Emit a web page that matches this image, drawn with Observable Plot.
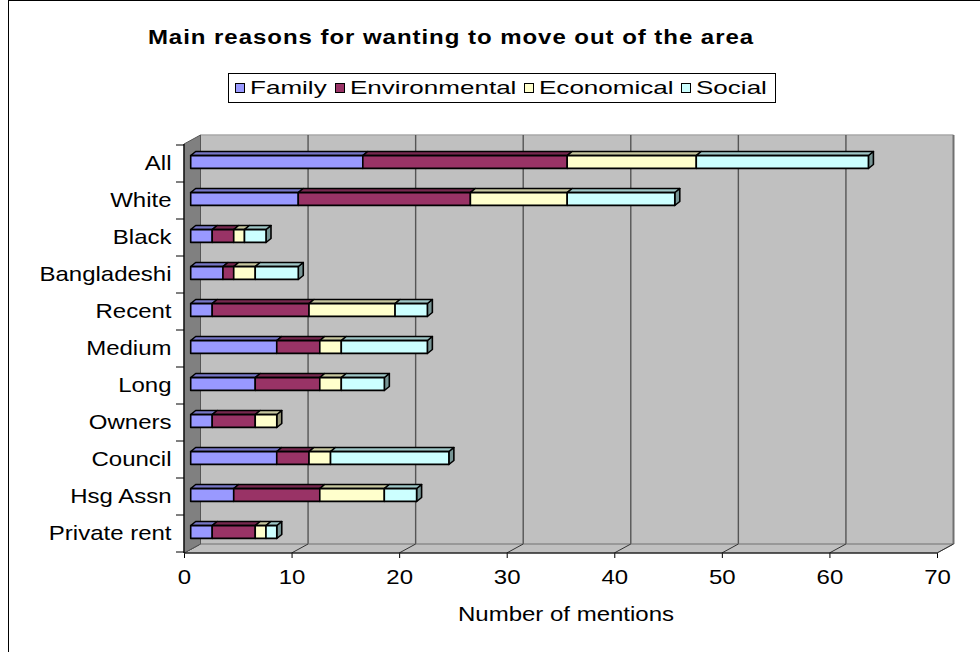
<!DOCTYPE html>
<html>
<head>
<meta charset="utf-8">
<script src="https://cdn.jsdelivr.net/npm/d3@7"></script>
<script src="https://cdn.jsdelivr.net/npm/@observablehq/plot@0.6"></script>
<style>
  body { margin: 0; background: #fff; }
  #chart { position: relative; width: 980px; height: 652px; overflow: hidden;
           font-family: "Liberation Sans", Arial, sans-serif; color: #000; }
  #chart svg { position: absolute; left: 0; top: 0; }
  #frame { position: absolute; left: 8px; top: 0; width: 990px; height: 670px;
           border-left: 1.5px solid #000; border-top: 1.5px solid #000; }
  .centered { position: absolute; white-space: nowrap; line-height: 1;
              transform-origin: 50% 50%; transform: translateX(-50%) scaleX(1.2); }
  #title { left: 451px; top: 27px; font-size: 20px; font-weight: bold; letter-spacing: 0.8px; }
  #xlabel { left: 566px; top: 604px; font-size: 20px; }
  #legend { position: absolute; left: 228px; top: 73px; width: 546px; height: 28px;
            border: 1px solid #000; background: #fff; }
  .swatch { position: absolute; top: 9px; width: 8px; height: 8px; border: 1.5px solid #000; }
  .ltext { position: absolute; top: 4px; font-size: 19px; line-height: 1; white-space: nowrap;
           transform-origin: 0 50%; transform: scaleX(1.37); }
</style>
</head>
<body>
<div id="chart">
  <div id="frame"></div>
  <div id="title" class="centered">Main reasons for wanting to move out of the area</div>
  <div id="legend"></div>
  <div id="xlabel" class="centered">Number of mentions</div>
</div>
<script>
// Groups of respondents, top to bottom
const categories = ["All", "White", "Black", "Bangladeshi", "Recent", "Medium", "Long",
                    "Owners", "Council", "Hsg Assn", "Private rent"];
// Reasons (stack order, left to right)
const reasons = ["Family", "Environmental", "Economical", "Social"];
const reasonColors = ["#9999FF", "#993366", "#FFFFCC", "#CCFFFF"];
// Number of mentions per group
const family        = [16, 10, 2, 3, 2, 8, 6, 2, 8, 4, 2];
const environmental = [19, 16, 2, 1, 9, 4, 6, 4, 3, 8, 4];
const economical    = [12,  9, 1, 2, 8, 2, 2, 2, 2, 6, 1];
const social        = [16, 10, 2, 4, 3, 8, 4, 0, 11, 3, 1];
// Value axis ticks
const xTicks = [0, 10, 20, 30, 40, 50, 60, 70];

const series = [family, environmental, economical, social];

// Stacked segments: one row per group and reason
const rows = [];
categories.forEach((category, i) => {
  let start = 0;
  const lastIdx = d3.max(series.map((s, k) => (s[i] > 0 ? k : -1)));
  series.forEach((s, k) => {
    if (s[i] > 0) {
      rows.push({category, reason: reasons[k], x1: start, x2: start + s[i], last: k === lastIdx});
    }
    start += s[i];
  });
});

// Layout of the 3-D box
const W = 980, H = 652;
const M = {left: 184, right: 43, top: 144, bottom: 99};
const DEPTH = {dx: 16.5, dy: -9};     // front edge of floor -> back wall
const BAR = {dx: 6.7, dy: -1.5, h: 13, depthX: 5, depthY: -4};
const band = (H - M.top - M.bottom) / categories.length;
const inset = (band - BAR.h) / 2;
const colorOf = Object.fromEntries(reasons.map((r, i) => [r, reasonColors[i]]));

const poly = (pts) => "M" + pts.map((p) => p.join(",")).join("L") + "Z";

// Walls, floor, gridlines and category ticks
function box(index, scales) {
  const x = scales.x, y = scales.y;
  const g = d3.create("svg:g");
  const x0 = x(xTicks[0]), x1 = x(xTicks[xTicks.length - 1]);
  const top = M.top, bottom = H - M.bottom;
  const {dx, dy} = DEPTH;
  // back wall
  g.append("path").attr("d", poly([[x0 + dx, top + dy], [x1 + dx, top + dy], [x1 + dx, bottom + dy], [x0 + dx, bottom + dy]]))
    .attr("fill", "#C0C0C0");
  g.append("path").attr("d", `M${x0 + dx},${top + dy}H${x1 + dx}`).attr("stroke", "#A8A8A8").attr("stroke-width", 1.5);
  g.append("path").attr("d", `M${x1 + dx},${top + dy}V${bottom + dy}`).attr("stroke", "#707070").attr("stroke-width", 2);
  // vertical gridlines on back wall
  for (const v of xTicks.slice(1, -1)) {
    g.append("path").attr("d", `M${x(v) + dx},${top + dy}V${bottom + dy}`)
      .attr("stroke", "#555").attr("stroke-width", 1.4);
  }
  // floor
  g.append("path").attr("d", poly([[x0, bottom], [x1, bottom], [x1 + dx, bottom + dy], [x0 + dx, bottom + dy]]))
    .attr("fill", "#C0C0C0").attr("stroke", "#707070").attr("stroke-width", 1);
  for (const v of xTicks) {
    g.append("path").attr("d", `M${x(v)},${bottom}L${x(v) + dx},${bottom + dy}`)
      .attr("stroke", "#333").attr("stroke-width", 1);
  }
  // left wall
  g.append("path").attr("d", poly([[x0, top], [x0, bottom], [x0 + dx, bottom + dy], [x0 + dx, top + dy]]))
    .attr("fill", "#808080").attr("stroke", "#555").attr("stroke-width", 1);
  // axis lines
  g.append("path").attr("d", `M${x0},${bottom}H${x1}`).attr("stroke", "#000").attr("stroke-width", 1.2);
  g.append("path").attr("d", `M${x0},${top}V${bottom}`).attr("stroke", "#000").attr("stroke-width", 1.2);
  // category boundary ticks
  const bw = typeof y.bandwidth === "function" ? y.bandwidth() : band;
  const bounds = categories.map((c) => y(c)).concat([y(categories[categories.length - 1]) + bw]);
  for (const b of bounds) {
    g.append("path").attr("d", `M${x0 - 8},${b}H${x0}`).attr("stroke", "#000").attr("stroke-width", 1);
  }
  return g.node();
}

// Top and end faces of the stacked bars
function barDepth(index, scales) {
  const x = scales.x, y = scales.y;
  const g = d3.create("svg:g").attr("stroke", "#000").attr("stroke-width", 1.6).attr("stroke-linejoin", "round");
  const bw = typeof y.bandwidth === "function" ? y.bandwidth() : band;
  const {depthX: ex, depthY: ey} = BAR;
  const geom = (r) => {
    const a = x(r.x1) + BAR.dx, b = x(r.x2) + BAR.dx;
    const yc = y(r.category) + bw / 2 + BAR.dy;
    return {a, b, t: yc - BAR.h / 2, u: yc + BAR.h / 2};
  };
  for (const r of rows.filter((d) => d.last)) {
    const {b, t, u} = geom(r);
    g.append("path").attr("d", poly([[b, t], [b + ex, t + ey], [b + ex, u + ey], [b, u]]))
      .attr("fill", d3.color(colorOf[r.reason]).darker(1.5));
  }
  for (const r of rows) {
    const {a, b, t} = geom(r);
    g.append("path").attr("d", poly([[a, t], [b, t], [b + ex, t + ey], [a + ex, t + ey]]))
      .attr("fill", d3.color(colorOf[r.reason]).darker(0.7));
  }
  return g.node();
}

const chart = Plot.plot({
  width: W,
  height: H,
  marginLeft: M.left,
  marginRight: M.right,
  marginTop: M.top,
  marginBottom: M.bottom,
  style: {fontFamily: '"Liberation Sans", Arial, sans-serif', fontSize: "20px", color: "#000", background: "transparent", overflow: "visible"},
  x: {domain: [xTicks[0], xTicks[xTicks.length - 1]], ticks: xTicks, tickSize: 5, tickPadding: 11, label: null},
  y: {domain: categories, padding: 0, tickSize: 0, tickPadding: 13, label: null},
  color: {domain: reasons, range: reasonColors},
  marks: [
    box,
    barDepth,
    Plot.barX(rows, {
      x1: "x1", x2: "x2", y: "category", fill: "reason",
      stroke: "#000", strokeWidth: 1.6, strokeLinejoin: "round",
      insetTop: inset, insetBottom: inset, dx: BAR.dx, dy: BAR.dy
    })
  ]
});

// Widen tick labels horizontally, keeping each anchored where it is
chart.querySelectorAll("text").forEach((t) => {
  const tr = t.getAttribute("transform") || "";
  const x = +(t.getAttribute("x") || 0);
  t.setAttribute("transform", `${tr} translate(${x},0) scale(1.2,1) translate(${-x},0)`);
});

document.getElementById("chart").insertBefore(chart, document.getElementById("frame"));

// Legend
const legend = document.getElementById("legend");
const legendPos = [[6, 21], [106, 121], [295, 310], [452, 467]];
reasons.forEach((r, i) => {
  const sw = document.createElement("div");
  sw.className = "swatch";
  sw.style.left = legendPos[i][0] + "px";
  sw.style.background = reasonColors[i];
  legend.appendChild(sw);
  const tx = document.createElement("div");
  tx.className = "ltext";
  tx.style.left = legendPos[i][1] + "px";
  tx.textContent = r;
  legend.appendChild(tx);
});
</script>
</body>
</html>
